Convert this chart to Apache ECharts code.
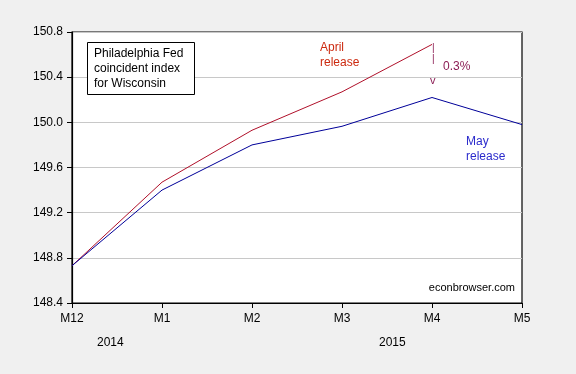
<!DOCTYPE html>
<html>
<head>
<meta charset="utf-8">
<script src="https://cdn.jsdelivr.net/npm/echarts@6/dist/echarts.min.js"></script>
<style>
html,body{margin:0;padding:0;background:#F0F0F0;}
#chart{width:576px;height:374px;}
</style>
</head>
<body>
<div id="chart"></div>
<script>
const categories = ['M12','M1','M2','M3','M4','M5'];
const aprilRelease = [148.73, 149.47, 149.93, 150.27, 150.69, null];
const mayRelease = [148.73, 149.40, 149.80, 149.965, 150.22, 149.98];
const yearLabels = ['2014', '2015'];

const FONT = '"Liberation Sans", Arial, sans-serif';
const chart = echarts.init(document.getElementById('chart'));
chart.setOption({
  backgroundColor: '#F0F0F0',
  animation: false,
  grid: {left: 72, right: 54, top: 32, bottom: 71, show: true,
         backgroundColor: '#FFFFFF', borderColor: '#000', borderWidth: 1.2},
  xAxis: {
    type: 'category', data: categories, boundaryGap: false,
    axisLine: {lineStyle: {color: '#000', width: 1.2}},
    axisTick: {show: true, length: 5, lineStyle: {color: '#000'}},
    axisLabel: {color: '#000', fontFamily: FONT, fontSize: 12, margin: 10},
    splitLine: {show: false}
  },
  yAxis: {
    type: 'value', min: 148.4, max: 150.8, interval: 0.4,
    axisLine: {show: true, lineStyle: {color: '#000', width: 1.2}},
    axisTick: {show: true, length: 5, lineStyle: {color: '#000'}},
    axisLabel: {color: '#000', fontFamily: FONT, fontSize: 12, margin: 9,
                formatter: v => v.toFixed(1)},
    splitLine: {show: true, lineStyle: {color: '#C8C8C8', width: 1}}
  },
  series: [
    {name: 'April release', type: 'line', data: aprilRelease, symbol: 'none',
     lineStyle: {color: '#B0102A', width: 1}, z: 3},
    {name: 'May release', type: 'line', data: mayRelease, symbol: 'none',
     lineStyle: {color: '#000099', width: 1}, z: 4}
  ],
  graphic: [
    {type: 'rect', left: 87, top: 42, shape: {width: 107, height: 52},
     style: {fill: '#fff', stroke: '#000', lineWidth: 1}, z: 10},
    {type: 'text', left: 94, top: 46, z: 11,
     style: {text: 'Philadelphia Fed\ncoincident index\nfor Wisconsin', fill: '#000',
             font: '12px ' + FONT, lineHeight: 15}},
    {type: 'text', left: 320, top: 40, z: 11,
     style: {text: 'April\nrelease', fill: '#CC2A10', font: '12px ' + FONT, lineHeight: 15}},
    {type: 'text', left: 466, top: 134, z: 11,
     style: {text: 'May\nrelease', fill: '#2B2BCC', font: '12px ' + FONT, lineHeight: 15}},
    {type: 'text', left: 432, top: 43, z: 11,
     style: {text: '|', fill: '#8B1E55', font: '10px ' + FONT}},
    {type: 'text', left: 432, top: 54, z: 11,
     style: {text: '|', fill: '#8B1E55', font: '10px ' + FONT}},
    {type: 'text', left: 430, top: 75, z: 11,
     style: {text: 'v', fill: '#8B1E55', font: '11px ' + FONT}},
    {type: 'text', left: 443, top: 61, z: 11,
     style: {text: '0.3%', fill: '#8B1E55', font: '12px ' + FONT}},
    {type: 'text', right: 61, top: 282, z: 11,
     style: {text: 'econbrowser.com', fill: '#000', font: '11px ' + FONT}},
    {type: 'text', left: 97, top: 337, z: 11,
     style: {text: yearLabels[0], fill: '#000', font: '12px ' + FONT}},
    {type: 'text', left: 379, top: 337, z: 11,
     style: {text: yearLabels[1], fill: '#000', font: '12px ' + FONT}}
  ]
});
</script>
</body>
</html>
